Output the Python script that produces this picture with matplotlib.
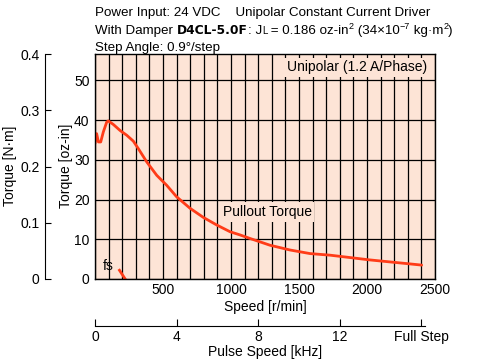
import matplotlib
matplotlib.use('Agg')
import matplotlib.pyplot as plt

# Dados (velocidade em r/min, torque em oz-in)
speed = [0, 12, 25, 42, 61, 86, 98, 135, 184, 233, 282, 319, 380, 454, 527,
         600, 699, 797, 895, 993, 1066, 1140, 1287, 1434, 1581, 1728, 1875,
         2022, 2169, 2316, 2402]
torque = [34.1, 36.6, 34.5, 34.5, 37.0, 39.5, 39.8, 38.9, 37.4, 36.2, 34.7,
          32.8, 29.5, 26.1, 23.6, 20.7, 17.8, 15.5, 13.6, 11.9, 11.1, 10.2,
          8.5, 7.3, 6.4, 6.0, 5.4, 4.8, 4.3, 3.8, 3.5]
fs_speed = [180, 222]
fs_torque = [2.2, 0.0]

speed_ticks = [500, 1000, 1500, 2000, 2500]
torque_ticks = [0, 10, 20, 30, 40, 50]
nm_ticks = [0, 0.1, 0.2, 0.3, 0.4]
nm_labels = ['0', '0.1', '0.2', '0.3', '0.4']
pulse_ticks = [0, 4, 8, 12, 16]
pulse_labels = ['0', '4', '8', '12', 'Full Step']

OZIN_PER_NM = 141.612
STEPS_PER_REV = 400
BG = '#fde4d6'
RED = '#ff3c18'

plt.rcParams['font.family'] = ['Liberation Sans', 'DejaVu Sans']
plt.rcParams['font.size'] = 10

fig = plt.figure(figsize=(4.83, 3.59), dpi=100)
W, H = 483, 359
L, R, T, B = 95, 435, 54, 279
ax = fig.add_axes([L / W, 1 - B / H, (R - L) / W, (B - T) / H])
ax.set_facecolor(BG)
ax.set_xlim(0, 2500)
ax.set_ylim(0, 0.4 * OZIN_PER_NM)
ax.set_xticks(speed_ticks)
ax.set_xticks(range(0, 2501, 100), minor=True)
ax.set_yticks(torque_ticks)
ax.grid(True, which='both', color='black', linewidth=0.9)
ax.set_axisbelow(True)
ax.tick_params(which='both', length=0)
ax.tick_params(axis='x', pad=3)
ax.tick_params(axis='y', pad=4)
for s in ax.spines.values():
    s.set_linewidth(1.0)
ax.set_xlabel('Speed [r/min]')
ax.xaxis.set_label_coords(265 / W, 1 - 307 / H, transform=fig.transFigure)
ax.set_ylabel('Torque [oz-in]')
ax.yaxis.set_label_coords(66 / W, 1 - 166 / H, transform=fig.transFigure)
ax.xaxis.label.set_va('center')
ax.yaxis.label.set_va('center')

ax.plot(speed, torque, color=RED, linewidth=2.0, solid_capstyle='round')
ax.plot(fs_speed, fs_torque, color=RED, linewidth=2.0)

ax.text(1265, 16.8, 'Pullout Torque', ha='center', va='center',
        bbox=dict(facecolor=BG, edgecolor='none', pad=2))
ax.text(2440, 53.3, 'Unipolar (1.2 A/Phase)', ha='right', va='center',
        bbox=dict(facecolor=BG, edgecolor='none', pad=2))
ax.text(100, 3.3, 'fs', ha='center', va='center')

# eixo em N·m à esquerda
axn = fig.add_axes([45 / W, 1 - B / H, 0.0001, (B - T) / H])
axn.set_ylim(0, 0.4)
axn.set_yticks(nm_ticks)
axn.set_yticklabels(nm_labels)
axn.set_xticks([])
for k in ['top', 'right', 'bottom']:
    axn.spines[k].set_visible(False)
axn.patch.set_visible(False)
axn.tick_params(axis='y', direction='in', length=4, pad=4)
axn.set_ylabel('Torque [N·m]')
axn.yaxis.set_label_coords(10 / W, 1 - 166 / H, transform=fig.transFigure)
axn.yaxis.label.set_va('center')

# eixo de velocidade de pulso
axp = fig.add_axes([L / W, 1 - 326 / H, (R - L) / W, 0.0001])
axp.set_xlim(0, 2500 * STEPS_PER_REV / 60 / 1000)
axp.set_xticks(pulse_ticks)
axp.set_xticklabels(pulse_labels)
axp.set_yticks([])
for k in ['top', 'right', 'left']:
    axp.spines[k].set_visible(False)
axp.spines['bottom'].set_bounds(0, 16.2)
axp.patch.set_visible(False)
axp.tick_params(axis='x', direction='in', length=5, pad=3)
axp.set_xlabel('Pulse Speed [kHz]')
axp.xaxis.set_label_coords(265 / W, 1 - 352 / H, transform=fig.transFigure)
axp.xaxis.label.set_va('center')

# cabeçalho com partes em negrito e sobrescritos
renderer = fig.canvas.get_renderer()


def rich_line(x, y, pieces):
    for txt, kw, dy in pieces:
        t = fig.text(x, y + dy / H, txt, va='baseline', ha='left',
                     **{'fontsize': 9.6, **kw})
        bb = t.get_window_extent(renderer)
        x += bb.width / W


sup = dict(fontsize=6.5)
fig.text(L / W, 1 - 16 / H, 'Power Input: 24 VDC    Unipolar Constant Current Driver',
         va='baseline', fontsize=9.6)
rich_line(L / W, 1 - 34 / H, [
    ('With Damper ', {}, 0),
    ('D4CL-5.0F', dict(fontweight='bold', family='DejaVu Sans', fontsize=8.8), 0),
    (': J', {}, 0),
    ('L', dict(fontsize=7), 0),
    (' = 0.186 oz-in', {}, 0),
    ('2', sup, 5),
    (' (34×10', {}, 0),
    ('−7', sup, 5),
    (' kg·m', {}, 0),
    ('2', sup, 5),
    (')', {}, 0),
])
fig.text(L / W, 1 - 51 / H, 'Step Angle: 0.9°/step', va='baseline', fontsize=9.6)

fig.savefig('out.png', dpi=100)
